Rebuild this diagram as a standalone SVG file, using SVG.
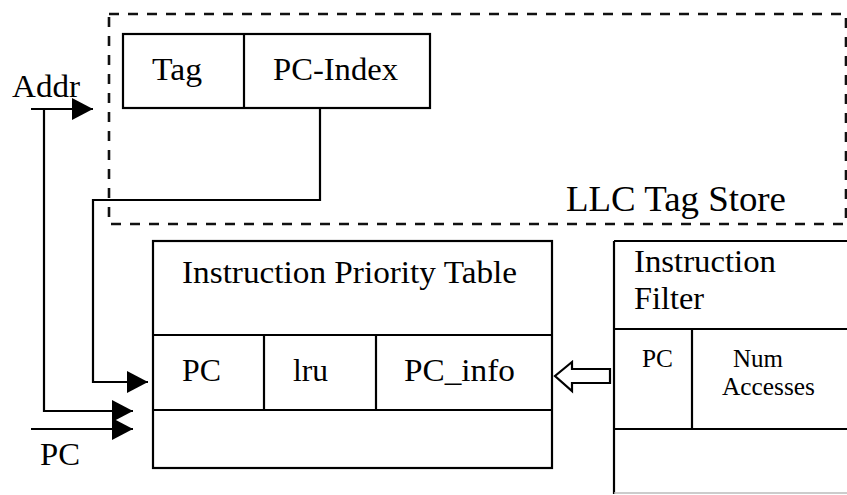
<svg xmlns="http://www.w3.org/2000/svg" width="847" height="495" viewBox="0 0 847 495">
  <style>
    .box { fill: none; stroke: #000; stroke-width: 2.2; }
    .wire { fill: none; stroke: #000; stroke-width: 2.2; }
    .dash { fill: none; stroke: #111; stroke-width: 2.6; stroke-dasharray: 10 9; }
    text { font-family: "Liberation Serif", "Times New Roman", serif; fill: #000; }
    .t { font-size: 32px; }
    .big { font-size: 36px; }
    .sm { font-size: 25px; }
  </style>
  <defs>
    <marker id="head" markerUnits="userSpaceOnUse" markerWidth="22" markerHeight="22" refX="21" refY="11" orient="auto">
      <path d="M0,0 L21,11 L0,22 z" fill="#000"/>
    </marker>
  </defs>
  <rect width="847" height="495" fill="#fff"/>

  <!-- LLC tag store (dashed region) -->
  <g id="llc-tag-store">
    <rect class="dash" x="109" y="14" width="737" height="210"/>
    <text class="big" x="566" y="211" textLength="220" lengthAdjust="spacingAndGlyphs">LLC Tag Store</text>
  </g>

  <!-- address fields -->
  <g id="address-fields">
    <rect class="box" x="123" y="34" width="307" height="74"/>
    <line class="box" x1="244" y1="34" x2="244" y2="108"/>
    <text class="t" x="152" y="80" textLength="50" lengthAdjust="spacingAndGlyphs">Tag</text>
    <text class="t" x="273" y="80" textLength="125" lengthAdjust="spacingAndGlyphs">PC-Index</text>
  </g>

  <!-- instruction priority table -->
  <g id="instruction-priority-table">
    <rect class="box" x="153" y="241" width="399" height="227"/>
    <line class="box" x1="153" y1="335" x2="552" y2="335"/>
    <line class="box" x1="153" y1="410" x2="552" y2="410"/>
    <line class="box" x1="264" y1="335" x2="264" y2="410"/>
    <line class="box" x1="376" y1="335" x2="376" y2="410"/>
    <text class="t" x="182" y="283" textLength="335" lengthAdjust="spacingAndGlyphs">Instruction Priority Table</text>
    <text class="t" x="182" y="381" textLength="39" lengthAdjust="spacingAndGlyphs">PC</text>
    <text class="t" x="293" y="381" textLength="35" lengthAdjust="spacingAndGlyphs">lru</text>
    <text class="t" x="404" y="381" textLength="111" lengthAdjust="spacingAndGlyphs">PC_info</text>
  </g>

  <!-- instruction filter -->
  <g id="instruction-filter">
    <line class="box" x1="614" y1="241" x2="848" y2="241"/>
    <line class="box" x1="614" y1="241" x2="614" y2="494"/>
    <line x1="614" y1="493" x2="848" y2="493" stroke="#bbb" stroke-width="1.5"/>
    <line class="box" x1="614" y1="329" x2="848" y2="329"/>
    <line class="box" x1="614" y1="429" x2="848" y2="429"/>
    <line class="box" x1="692" y1="329" x2="692" y2="429"/>
    <text class="t" x="634" y="272" textLength="142" lengthAdjust="spacingAndGlyphs">Instruction</text>
    <text class="t" x="634" y="309" textLength="70" lengthAdjust="spacingAndGlyphs">Filter</text>
    <text class="sm" x="642" y="367" textLength="31" lengthAdjust="spacingAndGlyphs">PC</text>
    <text class="sm" x="733" y="367" textLength="50" lengthAdjust="spacingAndGlyphs">Num</text>
    <text class="sm" x="722" y="395" textLength="93" lengthAdjust="spacingAndGlyphs">Accesses</text>
  </g>

  <!-- input labels -->
  <g id="inputs">
    <text class="t" x="12" y="97" textLength="68" lengthAdjust="spacingAndGlyphs">Addr</text>
    <text class="t" x="40" y="465" textLength="40" lengthAdjust="spacingAndGlyphs">PC</text>
  </g>

  <!-- connectors -->
  <g id="connectors">
    <line class="wire" x1="31" y1="109" x2="93" y2="109" marker-end="url(#head)"/>
    <polyline class="wire" points="44,109 44,411 133,411" marker-end="url(#head)"/>
    <line class="wire" x1="31" y1="429" x2="133" y2="429" marker-end="url(#head)"/>
    <polyline class="wire" points="320,108 320,200 93,200 93,382 148,382" marker-end="url(#head)"/>
    <polygon points="610,369 572,369 572,362 555,376 572,391 572,383 610,383" fill="#fff" stroke="#000" stroke-width="2.2" stroke-linejoin="miter"/>
  </g>
</svg>
